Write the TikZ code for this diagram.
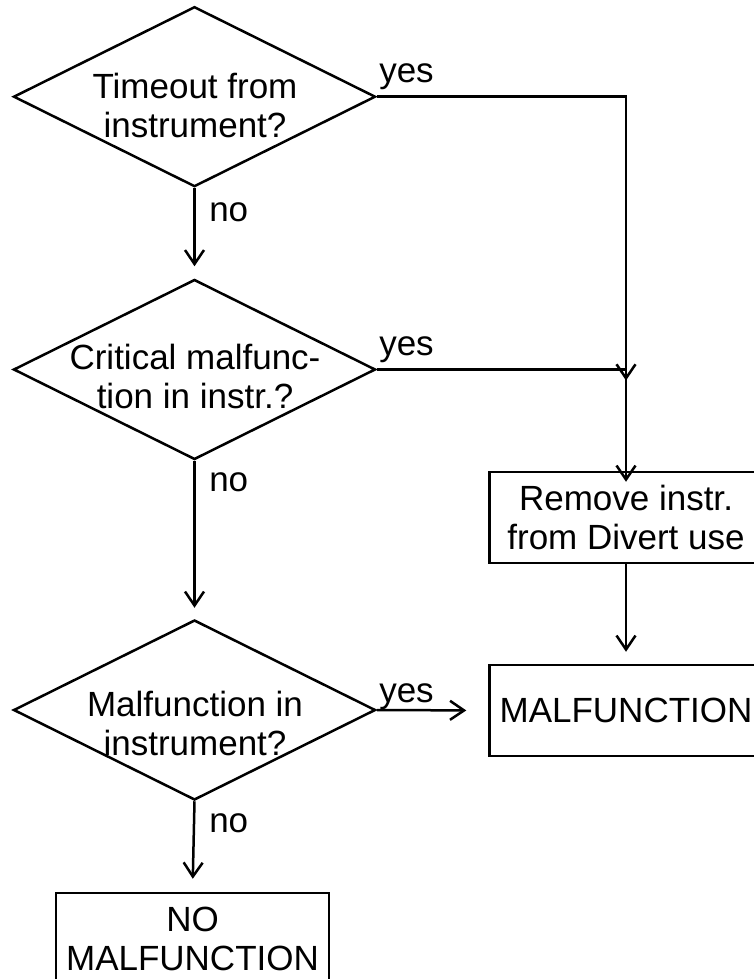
\documentclass[tikz,border=0pt]{standalone}
\usepackage{fontspec}
\setmainfont{Liberation Sans}
\usetikzlibrary{shapes.geometric,arrows.meta}
\begin{document}
\begin{tikzpicture}[x=1pt,y=-1pt,
  line width=2.5pt,
  every node/.style={font=\fontsize{35}{39}\selectfont, inner sep=0pt},
  dia/.style={draw, diamond, minimum width=362pt, minimum height=180pt},
  dtext/.style={anchor=north, align=center},
  flowbox/.style={draw, rectangle, minimum width=273pt, minimum height=91pt, align=center},
  lab/.style={anchor=base west},
  arr/.style={-{Straight Barb[length=14pt,width=19pt]}}
]
\useasboundingbox (0,0) rectangle (753,979);

% decisions
\node[dia] (d1) at (194.5,96.7) {};
\node[dtext] (d1t) at (195,72) {Timeout from\\instrument?};
\node[dia] (d2) at (194.5,369.5) {};
\node[dtext] (d2t) at (195,343) {Critical malfunc-\\tion in instr.?};
\node[dia] (d3) at (194.5,710) {};
\node[dtext] (d3t) at (195,690) {Malfunction in\\instrument?};

% boxes
\node[flowbox] (rem) at (626,517.5) {Remove instr.\\from Divert use};
\node[flowbox] (mal) at (626,710.5) {MALFUNCTION};
\node[flowbox] (nomal) at (192.5,938.5) {NO\\MALFUNCTION};

\coordinate (j1) at (626,369.5);

% connectors
\draw[arr] (d1.east) -| ([yshift=-11pt]j1);
\draw[arr] (d2.east) -| ([yshift=-11pt]rem.north);
\draw[arr, shorten >=12pt] (d1.south) -- (d2.north);
\draw[arr, shorten >=11pt] (d2.south) -- (d3.north);
\draw[arr, shorten >=13pt] (d3.south) -- (nomal.north);
\draw[arr, shorten >=22pt] (d3.east) -- (mal.west);
\draw[arr, shorten >=12pt] (rem.south) -- (mal.north);

% labels
\node[lab] (y1) at (378,83) {yes};
\node[lab] (y2) at (378,355) {yes};
\node[lab] (y3) at (378,702) {yes};
\node[lab] (n1) at (208,221) {no};
\node[lab] (n2) at (208,491) {no};
\node[lab] (n3) at (208,832) {no};
\end{tikzpicture}
\end{document}
